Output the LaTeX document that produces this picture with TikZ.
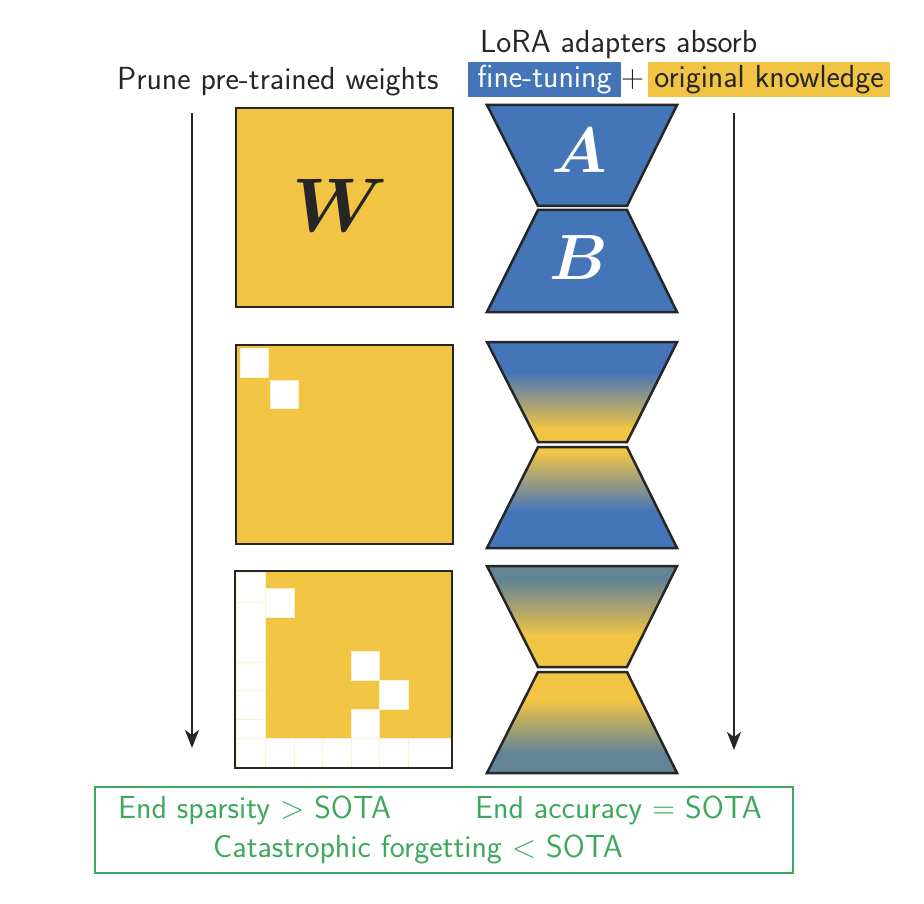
\RequirePackage{fix-cm}
\documentclass[tikz,border=0pt]{standalone}
\usepackage{amsmath,bm}
\usetikzlibrary{arrows.meta}
\definecolor{blu}{RGB}{69,117,185}
\definecolor{yel}{RGB}{242,196,68}
\definecolor{drk}{RGB}{38,38,38}
\definecolor{grn}{RGB}{62,168,92}
\definecolor{mixc}{RGB}{98,132,150}
\begin{document}
\begin{tikzpicture}[x=1pt,y=-1pt,
 lbl/.style={font=\fontsize{31.9}{36}\selectfont\sffamily, text=drk, inner sep=0},
 mat/.style={fill=yel, minimum width=217pt, minimum height=199pt, inner sep=0},
 mborder/.style={draw=drk, line width=2.5pt},
 hole/.style={fill=white, draw=yel!25, line width=0.8pt},
 faint/.style={draw=yel!25, line width=0.8pt},
 trap/.style={draw=drk, line width=2.5pt, line join=miter},
 arr/.style={draw=drk, line width=2pt, -{Stealth[length=18pt,width=14pt,inset=5pt]}},
 gbox/.style={draw=grn, line width=2pt, minimum width=698pt, minimum height=86pt, inner sep=0},
 gtxt/.style={font=\fontsize{31.9}{36}\selectfont\sffamily, text=grn, inner sep=0},
 big/.style={font=\fontsize{64}{64}\selectfont, text=white, inner sep=0},
]
\useasboundingbox (0,0) rectangle (924,904);

% header
\node[lbl, anchor=base west] (prune) at (117,90) {Prune pre-trained weights};
\node[lbl, anchor=base west] (lora) at (480,53) {LoRA adapters absorb};
\node[lbl, fill=blu, text=white, text height=26pt, text depth=9pt, minimum width=153pt, anchor=base] (ft) at (544.5,88) {fine-tuning};
\node[lbl, anchor=base] (plus) at (632.5,88) {$+$};
\node[lbl, fill=yel, text height=26pt, text depth=9pt, minimum width=242pt, anchor=base] (ok) at (769,88) {original knowledge};

% arrows
\coordinate (la1) at (192,113);
\coordinate (la2) at (192,748);
\coordinate (ra1) at (734,113);
\coordinate (ra2) at (734,750);
\draw[arr] (la1) -- (la2);
\draw[arr] (ra1) -- (ra2);

% matrix 1
\node[mat] (m1) at (344.5,207.5) {};
\node[font=\fontsize{76}{76}\selectfont, text=drk, inner sep=0] (lW) at (340,205) {$\bm{W}$};
\draw[mborder] (m1.north west) rectangle (m1.south east);

% matrix 2
\node[mat] (m2) at (344.5,444.5) {};
\draw[hole] (240,348) rectangle (268,377);
\draw[hole] (270,380) rectangle (298,408);
\draw[mborder] (m2.north west) rectangle (m2.south east);

% matrix 3
\node[mat, minimum height=197pt] (m3) at (343.5,669.5) {};
\draw[hole] (236.5,572.5) rectangle (265,767);
\draw[hole] (265,738) rectangle (451,767);
\foreach \yy in {602,662,690,719,738} \draw[faint] (236.5,\yy) -- (265,\yy);
\foreach \xx in {294,322,351,379,408} \draw[faint] (\xx,738) -- (\xx,767);
\draw[hole] (265,588) rectangle (294,617);
\draw[hole] (351,651) rectangle (379,680);
\draw[hole] (379,680) rectangle (408,709);
\draw[hole] (351,709) rectangle (379,738);
\draw[mborder] (m3.north west) rectangle (m3.south east);

% LoRA set 1
\draw[trap, fill=blu] (487,105) -- (677,105) -- (627,206) -- (538,206) -- cycle;
\draw[trap, fill=blu] (538,210) -- (627,210) -- (677,312) -- (487,312) -- cycle;
\node[big] (lA) at (579,151) {$\bm{A}$};
\node[big] (lB) at (579,258) {$\bm{B}$};

% LoRA set 2
\begin{scope}
\clip (487,342) -- (677,342) -- (627,442) -- (538,442) -- cycle;
\fill[blu] (480,340) rectangle (690,373);
\shade[top color=blu, bottom color=yel] (480,372) rectangle (690,429);
\fill[yel] (480,428) rectangle (690,445);
\end{scope}
\draw[trap] (487,342) -- (677,342) -- (627,442) -- (538,442) -- cycle;
\begin{scope}
\clip (538,447) -- (627,447) -- (677,548) -- (487,548) -- cycle;
\fill[yel] (480,445) rectangle (690,453);
\shade[top color=yel, bottom color=blu] (480,452) rectangle (690,511);
\fill[blu] (480,510) rectangle (690,550);
\end{scope}
\draw[trap] (538,447) -- (627,447) -- (677,548) -- (487,548) -- cycle;

% LoRA set 3
\begin{scope}
\clip (487,566) -- (677,566) -- (627,667) -- (538,667) -- cycle;
\fill[mixc] (480,564) rectangle (690,581);
\shade[top color=mixc, bottom color=yel] (480,580) rectangle (690,636);
\fill[yel] (480,635) rectangle (690,670);
\end{scope}
\draw[trap] (487,566) -- (677,566) -- (627,667) -- (538,667) -- cycle;
\begin{scope}
\clip (538,672) -- (627,672) -- (677,773) -- (487,773) -- cycle;
\fill[yel] (480,670) rectangle (690,701);
\shade[top color=yel, bottom color=mixc] (480,700) rectangle (690,753);
\fill[mixc] (480,752) rectangle (690,775);
\end{scope}
\draw[trap] (538,672) -- (627,672) -- (677,773) -- (487,773) -- cycle;

% green box
\node[gbox] (gb) at (444,830) {};
\node[gtxt, anchor=base west] (g1) at (118,818) {End sparsity $>$ SOTA};
\node[gtxt, anchor=base west] (g2) at (475,818) {End accuracy $=$ SOTA};
\node[gtxt, anchor=base west] (g3) at (213,857) {Catastrophic forgetting $<$ SOTA};
\end{tikzpicture}
\end{document}
